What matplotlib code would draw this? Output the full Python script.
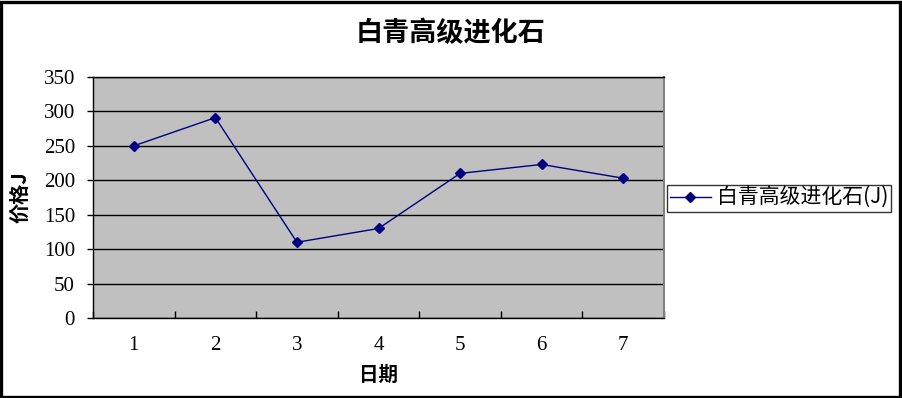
import matplotlib
matplotlib.use("Agg")
import matplotlib.pyplot as plt
from matplotlib.patches import Rectangle

plt.rcParams['font.family'] = ['Noto Sans CJK SC', 'DejaVu Sans']

title = "白青高级进化石"
series_name = "白青高级进化石(J)"
x_label = "日期"
y_label = "价格J"
days = [1, 2, 3, 4, 5, 6, 7]
prices = [250, 291, 110, 130, 210, 223, 203]
y_ticks = [0, 50, 100, 150, 200, 250, 300, 350]

W, H = 902, 398
fig = plt.figure(figsize=(W / 100, H / 100), dpi=100)
fig.patch.set_facecolor('white')

# figure border
fig.add_artist(Rectangle((0.0015, 0.003), 0.9965, 0.993, transform=fig.transFigure,
                         fill=False, edgecolor='black', linewidth=2.4))

left, right, top, bottom = 93, 664, 77, 318
ax = fig.add_axes([left / W, 1 - bottom / H, (right - left) / W, (bottom - top) / H])
ax.set_facecolor('#C0C0C0')

ax.plot(days, prices, color='#000080', linewidth=1.0, marker='D', markersize=5,
        markerfacecolor='#000080', markeredgecolor='#000080', label=series_name, zorder=3)

ax.set_xlim(0.5, 7.5)
ax.set_ylim(0, 350)
ax.set_yticks(y_ticks)
ax.set_yticklabels([str(v) for v in y_ticks], family='Liberation Serif', fontsize=15)
ax.set_xticks(days)
ax.set_xticklabels([str(d) for d in days], family='Liberation Serif', fontsize=15)
ax.set_xticks([0.5 + i for i in range(8)], minor=True)
ax.tick_params(axis='x', which='major', length=0, pad=13)
ax.tick_params(axis='x', which='minor', length=5, direction='in', width=1, color='black')
ax.tick_params(axis='y', which='major', length=4, direction='out', width=1, pad=9)
ax.yaxis.grid(True, color='black', linewidth=1)
ax.set_axisbelow(True)
for s in ['left', 'bottom', 'top']:
    ax.spines[s].set_color('black')
    ax.spines[s].set_linewidth(1)
ax.spines['right'].set_color('#808080')
ax.spines['right'].set_linewidth(1.5)

fig.text(451 / W, 1 - 33 / H, title, ha='center', va='center', fontsize=19.5, fontweight='bold')
fig.text(379 / W, 1 - 375 / H, x_label, ha='center', va='center', fontsize=14, fontweight='bold')
fig.text(20 / W, 1 - 197 / H, y_label, ha='center', va='center', rotation=90,
         fontsize=14.5, fontweight='bold')

leg = fig.legend(loc='center left', bbox_to_anchor=(667 / W, 1 - 198 / H), frameon=True,
                 fancybox=False, edgecolor='black', fontsize=15, handlelength=2.0,
                 handletextpad=0.3, borderpad=0.12, borderaxespad=0)
leg.get_frame().set_linewidth(1)

fig.savefig('out.png', dpi=100, facecolor='white')
